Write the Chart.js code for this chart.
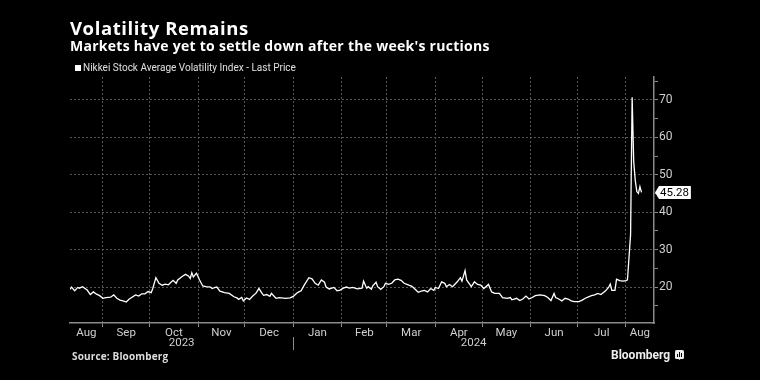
<!DOCTYPE html>
<html>
<head>
<meta charset="utf-8">
<script src="https://cdn.jsdelivr.net/npm/chart.js@4.4.1/dist/chart.umd.min.js"></script>
<style>
html,body{margin:0;padding:0;background:#000;}
#wrap{position:relative;width:760px;height:380px;background:#000;overflow:hidden;font-family:Roboto,"Liberation Sans",sans-serif;}
canvas{position:absolute;left:0;top:0;}
.t{position:absolute;white-space:nowrap;color:#fff;line-height:1;}
.os{font-family:"Open Sans",Roboto,sans-serif;}
#title{left:70px;top:18.5px;font-size:18.5px;font-weight:700;letter-spacing:0.6px;}
#sub{left:70px;top:38.5px;font-size:14px;font-weight:700;letter-spacing:0.27px;}
#legend{left:75px;top:62.5px;font-size:10px;color:#e0e0e0;}
#legend .sq{display:inline-block;width:6px;height:6px;background:#fff;margin-right:2px;}
#source{left:72px;top:351px;font-size:10px;font-weight:700;color:#ddd;letter-spacing:0.15px;}
#brand{left:611px;top:349px;font-size:12px;font-weight:700;color:#eee;}
#brand svg{position:relative;top:1px;margin-left:5px;}
</style>
</head>
<body>
<div id="wrap">
  <canvas id="c" width="760" height="380"></canvas>
  <div class="t os" id="title">Volatility Remains</div>
  <div class="t os" id="sub">Markets have yet to settle down after the week's ructions</div>
  <div class="t" id="legend"><span class="sq"></span>Nikkei Stock Average Volatility Index - Last Price</div>
  <div class="t os" id="source">Source: Bloomberg</div>
  <div class="t" id="brand">Bloomberg<svg width="9" height="10" viewBox="0 0 9 10"><rect x="0" y="0" width="9" height="9" rx="1.5" fill="#eee"/><rect x="2" y="4" width="1" height="3" fill="#000"/><rect x="4" y="2" width="1" height="5" fill="#000"/><rect x="6" y="3" width="1" height="4" fill="#000"/><path d="M3.5 9 L5.5 9 L4.5 10 Z" fill="#eee"/></svg></div>
</div>
<script>
// ---- data ----
const startDate = '2023-08-11';   // day offset 0
const endDate = '2024-08-19';     // axis end
const dayOffsets = [
  0,1,3,5,6,8,11,13,15,17,19,21,23,26,28,30,32,34,36,38,
  42,44,46,48,50,52,53,55,57,59,61,63,66,68,69,72,74,76,77,78,
  79,81,83,85,87,90,91,93,94,96,99,102,105,107,108,110,111,113,115,117,
  119,121,123,124,126,128,129,131,132,134,138,141,143,145,146,148,150,153,155,157,
  159,161,163,164,166,169,171,173,175,177,179,181,184,187,188,190,191,193,194,196,
  197,199,201,202,204,206,208,210,212,214,217,219,221,223,225,227,229,231,233,234,
  236,238,240,241,243,245,248,250,251,253,254,256,257,259,261,263,265,268,270,272,
  275,277,280,282,283,286,288,290,292,294,296,298,301,304,306,308,310,311,313,315,
  317,319,321,323,326,328,330,332,334,336,338,340,343,345,346,347,349,350,352,354,
  356,357,359,360,361,362,363,364,365,366
];
const vixValues = [
  19.4,20.0,19.0,19.9,19.7,20.1,19.2,18.0,18.7,18.1,17.7,17.0,17.2,17.3,17.9,17.0,16.5,16.3,16.0,16.8,
  17.9,17.6,18.2,18.2,18.8,18.5,19.6,22.5,21.0,20.5,20.8,20.6,21.8,21.0,21.9,22.9,23.4,22.9,22.3,23.8,
  22.7,23.7,21.9,20.3,20.1,20.0,19.6,19.9,20.0,18.9,18.5,18.3,17.4,17.1,16.7,17.2,16.3,17.1,16.7,17.6,
  18.3,19.6,18.3,17.8,18.0,17.5,18.3,17.4,17.0,17.2,17.0,17.1,17.5,18.3,18.6,19.0,20.5,22.5,22.2,21.0,
  20.5,21.9,21.3,20.0,19.5,19.9,19.0,19.2,19.7,20.0,19.7,19.9,19.5,19.7,21.6,19.7,20.1,19.4,20.4,21.3,
  20.1,19.4,20.1,21.0,20.7,21.0,21.9,22.1,21.8,21.0,20.5,20.2,19.4,18.6,18.9,19.1,18.7,19.6,19.1,19.9,
  19.6,21.4,21.0,20.1,20.7,20.1,21.4,22.5,21.6,24.4,21.9,20.7,20.1,21.4,20.7,20.5,19.6,20.7,18.7,18.3,
  18.3,17.2,17.0,17.2,16.6,17.0,16.4,16.8,17.6,16.8,17.2,17.7,17.9,17.7,17.2,16.4,18.3,17.2,16.8,16.3,
  17.0,16.8,16.3,16.1,16.1,16.5,17.0,17.4,17.7,17.9,18.3,18.0,19.0,20.0,20.8,19.1,19.1,22.1,21.7,21.6,
  21.7,21.9,34.0,70.7,53.5,48.5,45.5,45.0,46.8,45.28
];
const monthLabels = ['Aug','Sep','Oct','Nov','Dec','Jan','Feb','Mar','Apr','May','Jun','Jul','Aug'];
const yearLabels = ['2023','2024'];
const yTickValues = [15,20,25,30,35,40,45,50,55,60,65,70,75];
const yMin = 10.4, yMax = 76.1;

// ---- derived ----
const DAY = 86400000;
const t0 = Date.parse(startDate), tEnd = Date.parse(endDate);
const toOff = t => Math.round((t - t0) / DAY);
const xMax = toOff(tEnd);
const boundaries = [];
{
  let d = new Date(t0); let y = d.getUTCFullYear(), m = d.getUTCMonth() + 1;
  while (true) {
    if (m > 11) { m = 0; y++; }
    const t = Date.UTC(y, m, 1);
    if (t > tEnd) break;
    boundaries.push({ off: toOff(t), year: y, month: m });
    m++;
  }
}
const edges = [0, ...boundaries.map(b => b.off), xMax];
const labelMap = new Map();
for (let i = 0; i < edges.length - 1; i++) {
  labelMap.set((edges[i] + edges[i + 1]) / 2, monthLabels[i]);
}
const boundarySet = new Set(boundaries.map(b => b.off));
const xTickValues = [...boundarySet, ...labelMap.keys()].sort((a, b) => a - b);
const janOff = boundaries.find(b => b.month === 0).off;

const GRID = '#575757';
const AXIS = '#8a8a8a';
const TXT = '#cfcfcf';
Chart.defaults.font.family = 'Roboto, "Liberation Sans", sans-serif';

const extras = {
  id: 'extras',
  afterDraw(chart) {
    const { ctx, scales: { x, y } } = chart;
    const xj = x.getPixelForValue(janOff);
    ctx.save();
    ctx.fillStyle = TXT;
    ctx.font = '11.5px Roboto, "Liberation Sans", sans-serif';
    ctx.textAlign = 'center';
    ctx.textBaseline = 'middle';
    ctx.fillText(yearLabels[0], (x.left + xj) / 2, 343);
    ctx.fillText(yearLabels[1], (xj + x.right) / 2, 343);
    ctx.strokeStyle = AXIS;
    ctx.lineWidth = 1;
    ctx.beginPath();
    ctx.moveTo(Math.round(xj) + 0.5, 337);
    ctx.lineTo(Math.round(xj) + 0.5, 350);
    ctx.stroke();
    // last value marker
    const last = vixValues[vixValues.length - 1];
    const yy = y.getPixelForValue(last);
    const x0 = x.right + 1;
    ctx.font = '11.5px Roboto, "Liberation Sans", sans-serif';
    const label = last.toFixed(2);
    const tw = ctx.measureText(label).width;
    ctx.fillStyle = '#fff';
    ctx.beginPath();
    ctx.moveTo(x0, yy);
    ctx.lineTo(x0 + 4, yy - 6.5);
    ctx.lineTo(x0 + 7 + tw, yy - 6.5);
    ctx.lineTo(x0 + 7 + tw, yy + 6.5);
    ctx.lineTo(x0 + 4, yy + 6.5);
    ctx.closePath();
    ctx.fill();
    ctx.fillStyle = '#000';
    ctx.textAlign = 'left';
    ctx.fillText(label, x0 + 5, yy + 0.5);
    ctx.restore();
  }
};

new Chart(document.getElementById('c'), {
  type: 'line',
  data: {
    datasets: [{
      label: 'Nikkei Stock Average Volatility Index - Last Price',
      data: dayOffsets.map((d, i) => ({ x: d, y: vixValues[i] })),
      borderColor: '#ffffff',
      borderWidth: 1.3,
      pointRadius: 0,
      tension: 0,
      fill: false
    }]
  },
  options: {
    responsive: false,
    animation: false,
    events: [],
    layout: { padding: { left: 70, top: 77, right: 0, bottom: 0 } },
    plugins: { legend: { display: false }, tooltip: { enabled: false }, title: { display: false } },
    scales: {
      x: {
        type: 'linear',
        min: 0,
        max: xMax,
        afterBuildTicks: s => { s.ticks = xTickValues.map(v => ({ value: v })); },
        afterFit: s => { s.height = 57; },
        grid: {
          color: c => (c.tick && boundarySet.has(c.tick.value)) ? GRID : 'rgba(0,0,0,0)',
          tickColor: c => (c.tick && boundarySet.has(c.tick.value)) ? AXIS : 'rgba(0,0,0,0)',
          tickLength: 4,
          lineWidth: 1
        },
        border: { display: true, color: AXIS, width: 1.5, dash: [2, 2] },
        ticks: {
          autoSkip: false,
          maxRotation: 0,
          color: TXT,
          font: { size: 11.5 },
          padding: -1,
          callback: v => labelMap.get(v) || ''
        }
      },
      y: {
        position: 'right',
        min: yMin,
        max: yMax,
        afterBuildTicks: s => { s.ticks = yTickValues.map(v => ({ value: v })); },
        afterFit: s => { s.width = 106; },
        grid: {
          color: c => (c.tick && c.tick.value % 10 === 0) ? GRID : 'rgba(0,0,0,0)',
          tickColor: AXIS,
          tickLength: 4,
          lineWidth: 1
        },
        border: { display: true, color: AXIS, width: 1.5, dash: [2, 2] },
        ticks: {
          autoSkip: false,
          color: TXT,
          font: { size: 12 },
          padding: 1,
          callback: v => (v % 10 === 0 ? String(v) : '')
        }
      }
    }
  },
  plugins: [extras]
});
</script>
</body>
</html>
